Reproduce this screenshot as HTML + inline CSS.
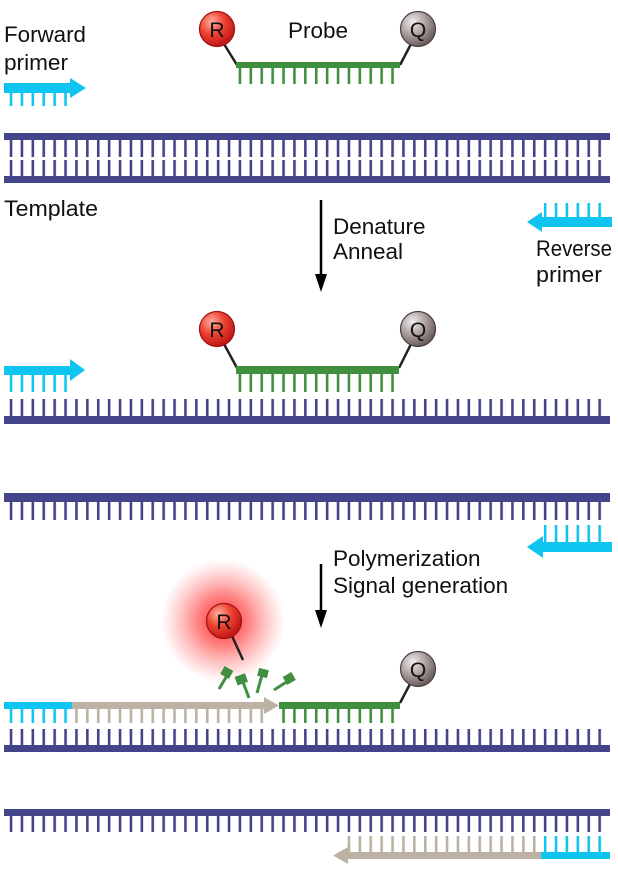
<!DOCTYPE html>
<html><head><meta charset="utf-8"><style>
html,body{margin:0;padding:0;background:#fff}
svg{display:block}
text{font-family:"Liberation Sans",sans-serif;font-size:22.5px;fill:#111}
.c{font-size:21px}
</style></head><body>
<svg width="618" height="877" viewBox="0 0 618 877" xmlns="http://www.w3.org/2000/svg">
<defs>
<pattern id="pn" x="9.75" y="0" width="10.9" height="1000" patternUnits="userSpaceOnUse"><rect width="2.6" height="1000" fill="#44448a"/></pattern>
<pattern id="pc" x="9.75" y="0" width="10.9" height="1000" patternUnits="userSpaceOnUse"><rect width="2.6" height="1000" fill="#10c4f2"/></pattern>
<pattern id="pg" x="9.75" y="0" width="10.9" height="1000" patternUnits="userSpaceOnUse"><rect width="2.6" height="1000" fill="#3f8f3f"/></pattern>
<pattern id="pb" x="9.75" y="0" width="10.9" height="1000" patternUnits="userSpaceOnUse"><rect width="2.6" height="1000" fill="#bcb2a4"/></pattern>
<radialGradient id="rg" cx="35%" cy="30%" r="70%"><stop offset="0" stop-color="#ffb0a0"/><stop offset="0.5" stop-color="#ee4433"/><stop offset="1" stop-color="#c01818"/></radialGradient>
<radialGradient id="qg" cx="35%" cy="30%" r="70%"><stop offset="0" stop-color="#f2eeee"/><stop offset="0.55" stop-color="#a89c9c"/><stop offset="1" stop-color="#6a5e5e"/></radialGradient>
<radialGradient id="glow"><stop offset="0" stop-color="#ff0000" stop-opacity="0.9"/><stop offset="0.45" stop-color="#ff3030" stop-opacity="0.55"/><stop offset="1" stop-color="#ff6060" stop-opacity="0"/></radialGradient>
</defs>

<!-- Section 1 -->
<text x="4" y="42" textLength="82" lengthAdjust="spacingAndGlyphs">Forward</text>
<text x="4" y="70" textLength="64" lengthAdjust="spacingAndGlyphs">primer</text>
<rect x="4" y="83" width="68" height="10" fill="#10c4f2"/>
<polygon points="70,78 86,88 70,98" fill="#10c4f2"/>
<rect x="8" y="93" width="60" height="13" fill="url(#pc)"/>

<text x="318" y="38" text-anchor="middle">Probe</text>
<line x1="224" y1="44" x2="237" y2="65" stroke="#222" stroke-width="2.5"/>
<line x1="400" y1="65" x2="411" y2="44" stroke="#222" stroke-width="2.5"/>
<circle cx="217" cy="29" r="17.5" fill="url(#rg)" stroke="#a01010" stroke-width="1.2"/>
<text class="c" x="217" y="37" text-anchor="middle">R</text>
<circle cx="418" cy="29" r="17.5" fill="url(#qg)" stroke="#4a3e3e" stroke-width="1.2"/>
<text class="c" x="418" y="37" text-anchor="middle">Q</text>
<rect x="236" y="62" width="164" height="6" fill="#3f8f3f"/>
<rect x="238" y="68" width="160" height="16" fill="url(#pg)"/>

<rect x="4" y="133" width="606" height="7" fill="#44448a"/>
<rect x="8" y="140" width="596" height="17" fill="url(#pn)"/>
<rect x="8" y="160" width="596" height="16" fill="url(#pn)"/>
<rect x="4" y="176" width="606" height="7" fill="#44448a"/>
<text x="4" y="216" textLength="94" lengthAdjust="spacingAndGlyphs">Template</text>

<line x1="321" y1="200" x2="321" y2="276" stroke="#000" stroke-width="2.5"/>
<polygon points="315,274 327,274 321,292" fill="#000"/>
<text x="333" y="234">Denature</text>
<text x="333" y="259">Anneal</text>

<polygon points="527,222 542,212 542,232" fill="#10c4f2"/>
<rect x="540" y="217" width="72" height="10" fill="#10c4f2"/>
<rect x="544" y="203" width="64" height="14" fill="url(#pc)"/>
<text x="536" y="256" textLength="76" lengthAdjust="spacingAndGlyphs">Reverse</text>
<text x="536" y="282" textLength="66" lengthAdjust="spacingAndGlyphs">primer</text>

<!-- Section 2 -->
<line x1="224" y1="344" x2="237" y2="368" stroke="#222" stroke-width="2.5"/>
<line x1="399" y1="368" x2="411" y2="344" stroke="#222" stroke-width="2.5"/>
<circle cx="217" cy="329" r="17.5" fill="url(#rg)" stroke="#a01010" stroke-width="1.2"/>
<text class="c" x="217" y="337" text-anchor="middle">R</text>
<circle cx="418" cy="329" r="17.5" fill="url(#qg)" stroke="#4a3e3e" stroke-width="1.2"/>
<text class="c" x="418" y="337" text-anchor="middle">Q</text>
<rect x="236" y="366" width="163" height="8" fill="#3f8f3f"/>
<rect x="238" y="374" width="158" height="18" fill="url(#pg)"/>

<rect x="4" y="366" width="68" height="9" fill="#10c4f2"/>
<polygon points="70,359 85,370 70,381" fill="#10c4f2"/>
<rect x="8" y="375" width="60" height="17" fill="url(#pc)"/>

<rect x="8" y="399" width="596" height="17" fill="url(#pn)"/>
<rect x="4" y="416" width="606" height="8" fill="#44448a"/>

<rect x="4" y="493" width="606" height="9" fill="#44448a"/>
<rect x="8" y="502" width="596" height="18" fill="url(#pn)"/>
<rect x="544" y="525" width="64" height="18" fill="url(#pc)"/>
<rect x="540" y="542" width="72" height="10" fill="#10c4f2"/>
<polygon points="527,547 543,536 543,558" fill="#10c4f2"/>

<line x1="321" y1="564" x2="321" y2="612" stroke="#000" stroke-width="2.5"/>
<polygon points="315,610 327,610 321,628" fill="#000"/>
<text x="333" y="566">Polymerization</text>
<text x="333" y="593">Signal generation</text>

<!-- Section 3 -->
<circle cx="223" cy="621" r="62" fill="url(#glow)"/>
<line x1="232" y1="636" x2="243" y2="660" stroke="#222" stroke-width="2.5"/>
<circle cx="224" cy="621" r="17.5" fill="url(#rg)" stroke="#a01010" stroke-width="1.2"/>
<text class="c" x="224" y="629" text-anchor="middle">R</text>

<g fill="#3f8f3f" stroke="#3f8f3f">
<line x1="219" y1="689" x2="228" y2="674" stroke-width="3"/><rect x="222" y="668" width="10" height="9" transform="rotate(30 227 672)" stroke="none"/>
<line x1="249" y1="698" x2="243" y2="682" stroke-width="3"/><rect x="236" y="675" width="11" height="9" transform="rotate(-20 241 680)" stroke="none"/>
<line x1="257" y1="693" x2="262" y2="675" stroke-width="3"/><rect x="258" y="669" width="10" height="8" transform="rotate(15 263 673)" stroke="none"/>
<line x1="274" y1="690" x2="288" y2="681" stroke-width="3"/><rect x="284" y="674" width="10" height="9" transform="rotate(-30 289 678)" stroke="none"/>
</g>

<line x1="400" y1="703" x2="410" y2="684" stroke="#222" stroke-width="2.5"/>
<circle cx="418" cy="669" r="17.5" fill="url(#qg)" stroke="#4a3e3e" stroke-width="1.2"/>
<text class="c" x="418" y="677" text-anchor="middle">Q</text>

<rect x="4" y="702" width="68" height="7" fill="#10c4f2"/>
<rect x="8" y="709" width="60" height="14" fill="url(#pc)"/>
<rect x="72" y="702" width="194" height="7" fill="#bcb2a4"/>
<polygon points="264,697 279,705.5 264,714" fill="#bcb2a4"/>
<rect x="72" y="709" width="192" height="14" fill="url(#pb)"/>
<rect x="279" y="702" width="121" height="7" fill="#3f8f3f"/>
<rect x="281" y="709" width="116" height="14" fill="url(#pg)"/>

<rect x="8" y="729" width="596" height="16" fill="url(#pn)"/>
<rect x="4" y="745" width="606" height="7" fill="#44448a"/>

<rect x="4" y="809" width="606" height="7" fill="#44448a"/>
<rect x="8" y="816" width="596" height="16" fill="url(#pn)"/>
<rect x="347" y="836" width="193" height="16" fill="url(#pb)"/>
<rect x="544" y="836" width="64" height="16" fill="url(#pc)"/>
<rect x="345" y="852" width="196" height="7" fill="#bcb2a4"/>
<polygon points="333,855.5 348,847 348,864" fill="#bcb2a4"/>
<rect x="541" y="852" width="69" height="7" fill="#10c4f2"/>
</svg>
</body></html>
